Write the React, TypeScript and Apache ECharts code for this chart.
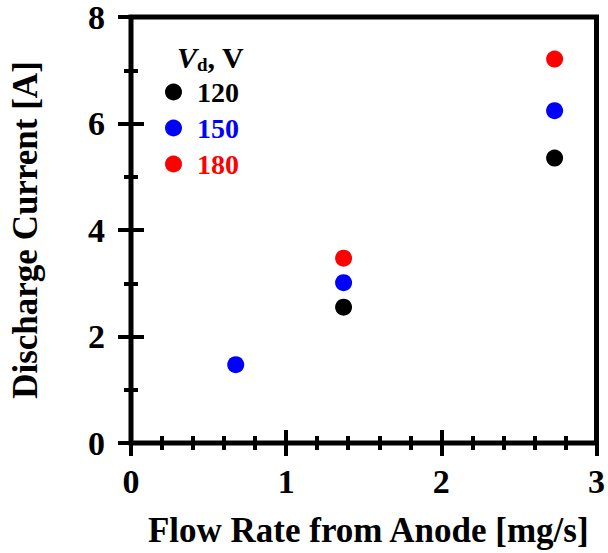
import React, { useEffect, useRef } from "react";
import * as echarts from "echarts";

const flow120 = [1.37, 2.73];
const current120 = [2.55, 5.35];
const flow150 = [0.675, 1.37, 2.73];
const current150 = [1.47, 3.01, 6.24];
const flow180 = [1.37, 2.73];
const current180 = [3.47, 7.21];
const seriesNames = ["120", "150", "180"];
const seriesColors = ["#000000", "#0000ff", "#ff0000"];

const FONT = "'Liberation Serif', 'Times New Roman', serif";

function pairs(xs: number[], ys: number[]) {
  return xs.map((x, i) => [x, ys[i]]);
}

export default function App() {
  const ref = useRef<HTMLDivElement>(null);
  useEffect(() => {
    if (!ref.current) return;
    document.body.style.margin = "0";
    const chart = echarts.init(ref.current, null, { renderer: "svg" });
    const tickStyle = { color: "#000", width: 4 };
    const baseX = {
      type: "value" as const,
      min: 0,
      max: 3,
      interval: 1,
      axisLine: { show: false },
      splitLine: { show: false },
      axisTick: { show: true, inside: true, length: 13, lineStyle: tickStyle },
      minorTick: { show: true, splitNumber: 5, length: 7, lineStyle: tickStyle },
    };
    const baseY = {
      type: "value" as const,
      min: 0,
      max: 8,
      interval: 2,
      axisLine: { show: false },
      splitLine: { show: false },
      axisTick: { show: true, inside: true, length: 13, lineStyle: tickStyle },
      minorTick: { show: true, splitNumber: 2, length: 7, lineStyle: tickStyle },
    };
    const labelStyle = {
      fontFamily: FONT,
      fontWeight: "bold" as const,
      fontSize: 34,
      color: "#000",
    };
    const data = [
      pairs(flow120, current120),
      pairs(flow150, current150),
      pairs(flow180, current180),
    ];
    chart.setOption({
      animation: false,
      backgroundColor: "#ffffff",
      grid: {
        left: 127,
        right: 9,
        top: 16,
        bottom: 109,
        show: true,
        borderColor: "#000",
        borderWidth: 5,
        backgroundColor: "transparent",
      },
      xAxis: [
        {
          ...baseX,
          position: "bottom",
          axisLabel: { ...labelStyle, margin: 21 },
          name: "Flow Rate from Anode [mg/s]",
          nameLocation: "middle",
          nameGap: 70,
          nameTextStyle: { ...labelStyle, fontSize: 35, padding: [0, 0, 0, 9] },
        },
        {
          ...baseX,
          position: "top",
          axisLabel: { show: false },
        },
      ],
      yAxis: [
        {
          ...baseY,
          position: "left",
          axisLabel: { ...labelStyle, margin: 26 },
          name: "Discharge Current [A]",
          nameLocation: "middle",
          nameGap: 88,
          nameTextStyle: { ...labelStyle, fontSize: 35 },
        },
        {
          ...baseY,
          position: "right",
          axisLabel: { show: false },
        },
      ],
      legend: {
        orient: "vertical",
        left: 165,
        top: 78,
        padding: 0,
        icon: "circle",
        itemWidth: 17,
        itemHeight: 17,
        itemGap: 8,
        selectedMode: false,
        textStyle: { ...labelStyle, fontSize: 28, lineHeight: 28, padding: [0, 0, 0, 10] },
        data: seriesNames.map((n, i) => ({
          name: n,
          textStyle: { color: seriesColors[i] },
        })),
      },
      graphic: [
        {
          type: "text",
          left: 177,
          top: 42,
          style: {
            text: "{i|V}{s|d}{b|, V}",
            rich: {
              i: { fontFamily: FONT, fontWeight: "bold", fontStyle: "italic", fontSize: 30, fill: "#000" },
              s: { fontFamily: FONT, fontWeight: "bold", fontSize: 19, fill: "#000", padding: [14, 0, 0, 0] },
              b: { fontFamily: FONT, fontWeight: "bold", fontSize: 30, fill: "#000" },
            },
          },
        },
      ],
      series: seriesNames.map((n, i) => ({
        name: n,
        type: "scatter",
        symbol: "circle",
        symbolSize: 17,
        itemStyle: { color: seriesColors[i], opacity: 1 },
        data: data[i],
        xAxisIndex: 0,
        yAxisIndex: 0,
      })),
    });
    return () => chart.dispose();
  }, []);
  return (
    <div
      ref={ref}
      style={{ position: "absolute", left: 0, top: 0, width: 608, height: 553 }}
    />
  );
}
